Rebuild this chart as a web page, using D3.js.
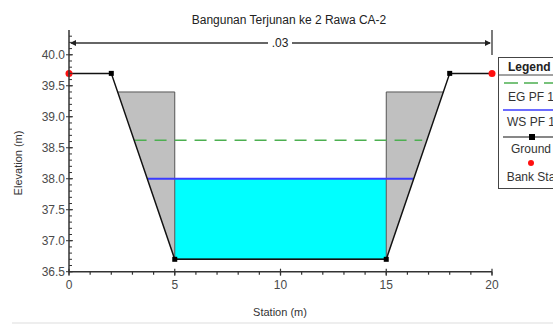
<!DOCTYPE html>
<html>
<head>
<meta charset="utf-8">
<script src="https://cdn.jsdelivr.net/npm/d3@7"></script>
<style>
  body { margin: 0; background: #fff; }
  text { font-family: "Liberation Sans", Arial, sans-serif; }
</style>
</head>
<body>
<div id="chart"></div>
<script>
'use strict';

// ground profile
var groundSta = [0, 2, 5, 15, 18, 20];
var groundElev = [39.7, 39.7, 36.7, 36.7, 39.7, 39.7];
// bank stations
var bankSta = [0, 20];
var bankElev = [39.7, 39.7];
// blocked (ineffective) areas, top elevation
var blockLeft = [2.3, 5];
var blockRight = [15, 17.7];
var blockTop = 39.4;
// water surface / energy grade
var wsElev = 38.0;
var wsSta = [3.7, 16.3];
var egElev = 38.62;
var egSta = [3.1, 16.7];
var xTicks = [0, 5, 10, 15, 20];
var yTicks = [36.5, 37.0, 37.5, 38.0, 38.5, 39.0, 39.5, 40.0];
var legendItems = ['EG PF 1', 'WS PF 1', 'Ground', 'Bank Sta'];

var width = 553, height = 329;
var x = d3.scaleLinear().domain([0, 20]).range([69, 492]);
var y = d3.scaleLinear().domain([36.5, 40.4]).range([271.7, 30]);

var svg = d3.select('#chart').append('svg')
  .attr('width', width)
  .attr('height', height);

var line = d3.line().x(function(d) { return x(d[0]); }).y(function(d) { return y(d[1]); });

// title
svg.append('text')
  .attr('x', 289).attr('y', 24)
  .attr('text-anchor', 'middle')
  .style('font-size', '12px').style('fill', '#222')
  .text('Bangunan Terjunan ke 2 Rawa CA-2');

// reach length arrow
var arrowY = 43;
svg.append('line').attr('x1', x(0) + 2).attr('x2', 268).attr('y1', arrowY).attr('y2', arrowY)
  .style('stroke', '#333').style('stroke-width', 1.3);
svg.append('line').attr('x1', 292).attr('x2', x(20) - 2).attr('y1', arrowY).attr('y2', arrowY)
  .style('stroke', '#333').style('stroke-width', 1.3);
svg.append('path')
  .attr('d', 'M' + (x(0) + 1) + ',' + arrowY + 'l6,-3l0,6z').style('fill', '#222');
svg.append('path')
  .attr('d', 'M' + (x(20) - 1) + ',' + arrowY + 'l-6,-3l0,6z').style('fill', '#222');
svg.append('line').attr('x1', x(20)).attr('x2', x(20)).attr('y1', 30).attr('y2', 55)
  .style('stroke', '#333').style('stroke-width', 1.3);
svg.append('text')
  .attr('x', 280).attr('y', 47)
  .attr('text-anchor', 'middle')
  .style('font-size', '12px').style('fill', '#222')
  .text('.03');

// water
svg.append('rect')
  .attr('x', x(5)).attr('y', y(wsElev))
  .attr('width', x(15) - x(5)).attr('height', y(36.7) - y(wsElev))
  .style('fill', '#00ffff');
svg.append('line')
  .attr('x1', x(5)).attr('x2', x(15)).attr('y1', y(36.7)).attr('y2', y(36.7))
  .style('stroke', '#1a7a7a').style('stroke-width', 1.5);

// blocked areas
[blockLeft, blockRight].forEach(function(b, i) {
  var pts = i === 0
    ? [[b[0], blockTop], [b[1], blockTop], [b[1], 36.7]]
    : [[b[0], 36.7], [b[0], blockTop], [b[1], blockTop]];
  svg.append('path')
    .attr('d', line(pts) + 'Z')
    .style('fill', '#c0c0c0');
  svg.append('path')
    .attr('d', line(pts))
    .style('fill', 'none').style('stroke', '#555').style('stroke-width', 1);
});

// energy grade
svg.append('line')
  .attr('x1', x(egSta[0])).attr('x2', x(egSta[1]))
  .attr('y1', y(egElev)).attr('y2', y(egElev))
  .style('stroke', '#4caf50').style('stroke-width', 1.5)
  .style('stroke-dasharray', '12,8');

// water surface
svg.append('line')
  .attr('x1', x(wsSta[0])).attr('x2', x(wsSta[1]))
  .attr('y1', y(wsElev)).attr('y2', y(wsElev))
  .style('stroke', '#3b3bff').style('stroke-width', 2);

// ground
var groundPts = groundSta.map(function(s, i) { return [s, groundElev[i]]; });
svg.append('path')
  .attr('d', line(groundPts))
  .style('fill', 'none').style('stroke', '#111').style('stroke-width', 1.5);
svg.selectAll('.gpt').data(groundPts.slice(1, -1)).enter().append('rect')
  .attr('x', function(d) { return x(d[0]) - 2.5; })
  .attr('y', function(d) { return y(d[1]) - 2.5; })
  .attr('width', 5).attr('height', 5)
  .style('fill', '#000');

// bank stations
svg.selectAll('.bank').data(bankSta).enter().append('circle')
  .attr('cx', function(d) { return x(d); })
  .attr('cy', function(d, i) { return y(bankElev[i]); })
  .attr('r', 3.5)
  .style('fill', '#ff1010');

// axes
var axisColor = '#333';
svg.append('line').attr('x1', x(0)).attr('x2', x(0)).attr('y1', 30).attr('y2', y(36.5))
  .style('stroke', axisColor).style('stroke-width', 1.5);
svg.append('line').attr('x1', x(0)).attr('x2', x(20)).attr('y1', y(36.5)).attr('y2', y(36.5))
  .style('stroke', axisColor).style('stroke-width', 1.5);

var yMinor = d3.range(0, 39).map(function(i) { return 36.5 + i * 0.1; });
svg.selectAll('.ymin').data(yMinor).enter().append('line')
  .attr('x1', x(0)).attr('x2', x(0) + 3)
  .attr('y1', function(d) { return y(d); }).attr('y2', function(d) { return y(d); })
  .style('stroke', axisColor).style('stroke-width', 1);
svg.selectAll('.ymaj').data(yTicks).enter().append('line')
  .attr('x1', x(0) - 3).attr('x2', x(0) + 4)
  .attr('y1', function(d) { return y(d); }).attr('y2', function(d) { return y(d); })
  .style('stroke', axisColor).style('stroke-width', 1);
svg.selectAll('.ylab').data(yTicks).enter().append('text')
  .attr('x', 65).attr('y', function(d) { return y(d) + 4; })
  .attr('text-anchor', 'end')
  .style('font-size', '12px').style('fill', '#4a4a4a')
  .text(function(d) { return d3.format('.1f')(d); });

var xMinor = d3.range(0, 21);
svg.selectAll('.xmin').data(xMinor).enter().append('line')
  .attr('x1', function(d) { return x(d); }).attr('x2', function(d) { return x(d); })
  .attr('y1', y(36.5)).attr('y2', y(36.5) + 3)
  .style('stroke', axisColor).style('stroke-width', 1.2);
svg.selectAll('.xmaj').data(xTicks).enter().append('line')
  .attr('x1', function(d) { return x(d); }).attr('x2', function(d) { return x(d); })
  .attr('y1', y(36.5) - 3).attr('y2', y(36.5) + 4)
  .style('stroke', axisColor).style('stroke-width', 1.2);
svg.selectAll('.xlab').data(xTicks).enter().append('text')
  .attr('x', function(d) { return x(d); }).attr('y', 289)
  .attr('text-anchor', 'middle')
  .style('font-size', '12px').style('fill', '#4a4a4a')
  .text(function(d) { return d; });

// axis titles
svg.append('text')
  .attr('x', 280).attr('y', 316)
  .attr('text-anchor', 'middle')
  .style('font-size', '11px').style('fill', '#333')
  .text('Station (m)');
svg.append('text')
  .attr('transform', 'translate(22,163) rotate(-90)')
  .attr('text-anchor', 'middle')
  .style('font-size', '11px').style('fill', '#333')
  .text('Elevation (m)');

// bottom separator
svg.append('rect').attr('x', 12).attr('y', 322).attr('width', 545).attr('height', 2)
  .style('fill', '#eeeeee');

// legend
var lg = svg.append('g');
lg.append('rect').attr('x', 498.5).attr('y', 57.5).attr('width', 80).attr('height', 131)
  .style('fill', '#fff').style('stroke', '#444').style('stroke-width', 1);
lg.append('text').attr('x', 508).attr('y', 71)
  .style('font-size', '12px').style('font-weight', 'bold').style('fill', '#222')
  .text('Legend');
lg.append('line').attr('x1', 498).attr('x2', 560).attr('y1', 75).attr('y2', 75)
  .style('stroke', '#444');
lg.append('line').attr('x1', 504).attr('x2', 560).attr('y1', 83).attr('y2', 83)
  .style('stroke', '#4caf50').style('stroke-width', 1.5).style('stroke-dasharray', '14,6');
lg.append('line').attr('x1', 503).attr('x2', 560).attr('y1', 110).attr('y2', 110)
  .style('stroke', '#3b3bff').style('stroke-width', 1.5);
lg.append('line').attr('x1', 503).attr('x2', 560).attr('y1', 137).attr('y2', 137)
  .style('stroke', '#111').style('stroke-width', 1.2);
lg.append('rect').attr('x', 529).attr('y', 134).attr('width', 6).attr('height', 6).style('fill', '#000');
lg.append('circle').attr('cx', 531).attr('cy', 163).attr('r', 3).style('fill', '#ff1010');
var legY = [101, 126, 153, 181];
lg.selectAll('.lt').data(legendItems).enter().append('text')
  .attr('x', 531).attr('y', function(d, i) { return legY[i]; })
  .attr('text-anchor', 'middle')
  .style('font-size', '12px').style('fill', '#333')
  .text(function(d) { return d; });
</script>
</body>
</html>
